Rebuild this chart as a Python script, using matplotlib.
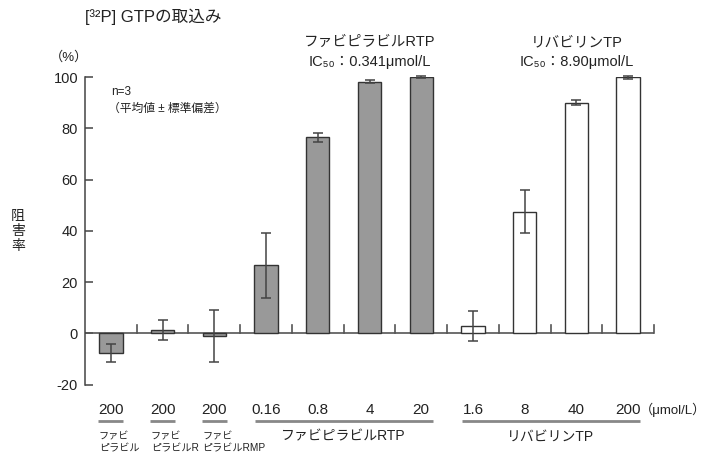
import matplotlib
matplotlib.use("Agg")
import matplotlib.pyplot as plt
import numpy as np

plt.rcParams['font.family'] = ['Liberation Sans', 'Noto Sans CJK JP', 'DejaVu Sans']

# ---- data ----
conc_labels = ["200", "200", "200", "0.16", "0.8", "4", "20", "1.6", "8", "40", "200"]
values = [-7.6, 1.2, -1.1, 26.5, 76.6, 98.2, 100.0, 2.9, 47.5, 90.0, 100.0]
errors = [3.6, 3.9, 10.2, 12.7, 1.7, 0.6, 0.4, 5.9, 8.5, 1.0, 0.5]
groups = ["fav", "fav", "fav", "fav", "fav", "fav", "fav", "rib", "rib", "rib", "rib"]
single_labels = ["ファビ\nピラビル", "ファビ\nピラビルR", "ファビ\nピラビルRMP"]
group_names = ["ファビピラビルRTP", "リバビリンTP"]
group_ranges = [(3, 6), (7, 10)]
ic50_texts = ["IC₅₀：0.341μmol/L", "IC₅₀：8.90μmol/L"]
yticks = [-20, 0, 20, 40, 60, 80, 100]

fill_colors = {"fav": "#999999", "rib": "#ffffff"}

fig = plt.figure(figsize=(7.17, 4.66), dpi=100)
ax = fig.add_axes([85/717, 81.5/466, 569/717, 307.2/466])

x = np.arange(len(values))
colors = [fill_colors[g] for g in groups]
ax.bar(x, values, width=0.45, color=colors, edgecolor="#333333", linewidth=1.0, zorder=3)
ax.errorbar(x, values, yerr=errors, fmt="none", ecolor="#444444", elinewidth=1.1,
            capsize=3.5, capthick=1.1, zorder=4, clip_on=False)

ax.set_xlim(-0.5, 10.5)
ax.set_ylim(-20, 100)

# zero line and between-category ticks
ax.axhline(0, color="#555555", lw=1.2, zorder=2)
for xb in np.arange(0.5, 10.6, 1.0):
    ax.plot([xb, xb], [0, 3.1], color="#555555", lw=1.2, zorder=2, clip_on=False)

for s in ["top", "right", "bottom"]:
    ax.spines[s].set_visible(False)
ax.spines["left"].set_color("#444444")
ax.spines["left"].set_linewidth(1.1)
ax.set_xticks([])
ax.set_yticks(yticks)
ax.set_yticklabels([str(t) for t in yticks])
ax.tick_params(axis="y", direction="in", length=6, width=1.1, color="#444444",
               labelsize=10.5, pad=5, labelcolor="#222222")

# concentration labels
for xi, lab in zip(x, conc_labels):
    ax.text(xi, -30, lab, ha="center", va="center", fontsize=11, color="#222222", clip_on=False)
ax.text(10.22, -30, "（μmol/L）", ha="left", va="center", fontsize=9.5, color="#222222")

# grey underlines
line_kw = dict(color="#888888", lw=2, clip_on=False, solid_capstyle="butt")
for i in range(3):
    ax.plot([i - 0.24, i + 0.24], [-34.2, -34.2], **line_kw)
for (a, b) in group_ranges:
    ax.plot([a - 0.22, b + 0.22], [-34.2, -34.2], **line_kw)

# labels under
for i, lab in enumerate(single_labels):
    ax.text(i - 0.23, -38.3, lab, ha="left", va="top", fontsize=7.3,
            linespacing=1.3, color="#222222")
for (a, b), name in zip(group_ranges, group_names):
    ax.text((a + b) / 2, -40.4, name, ha="center", va="center", fontsize=10, color="#222222")

# top annotations
for xc, name, ic in zip([5.0, 9.0], group_names, ic50_texts):
    ax.text(xc, 113.8, name, ha="center", va="center", fontsize=10.5, color="#222222")
    ax.text(xc, 106.0, ic, ha="center", va="center", fontsize=10.5, color="#222222")

# n=3 note
ax.text(0.0, 94.3, "n=3", ha="left", va="center", fontsize=8.5, color="#222222")
ax.text(-0.05, 87.8, "（平均値 ± 標準偏差）", ha="left", va="center", fontsize=8.5, color="#222222")

# figure texts
fig.text(85/717, 1 - 17/466, "[³²P] GTPの取込み", ha="left", va="center",
         fontsize=12, color="#222222")
fig.text(69/717, 1 - 57/466, "（%）", ha="center", va="center", fontsize=9.5, color="#222222")
fig.text(18/717, 1 - 231/466, "阻\n害\n率", ha="center", va="center", fontsize=10,
         linespacing=1.05, color="#222222")

fig.savefig("out.png", dpi=100)
